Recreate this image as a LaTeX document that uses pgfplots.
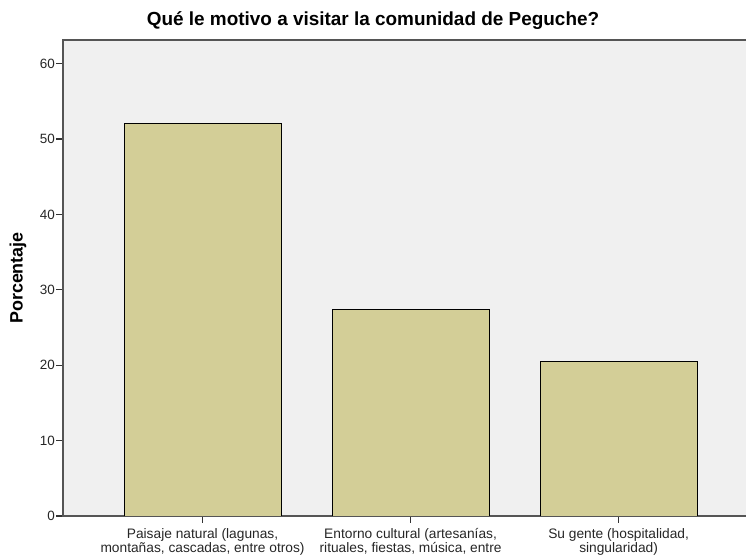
\documentclass[border=0pt]{standalone}
\usepackage{pgfplots}
\pgfplotsset{compat=1.18}
\usepackage{fontspec}
\setmainfont{Liberation Sans}

\definecolor{barfill}{RGB}{211,206,151}
\definecolor{plotbg}{RGB}{240,240,240}
\definecolor{axisgray}{RGB}{85,85,85}

\begin{document}
\begin{tikzpicture}[x=1bp,y=1bp]
\begin{axis}[
    at={(63bp,40bp)}, anchor=south west,
    scale only axis,
    width=690bp, height=476bp,
    xmin=-0.6707, xmax=2.646,
    ymin=0, ymax=63.13,
    ybar, bar width=157bp,
    axis background/.style={fill=plotbg},
    axis line style={draw=axisgray, line width=1.3bp},
    xtick={0,1,2},
    xticklabels={
        {Paisaje natural (lagunas,\\montañas, cascadas, entre otros)},
        {Entorno cultural (artesanías,\\rituales, fiestas, música, entre\\otros)},
        {Su gente (hospitalidad,\\singularidad)}},
    ytick={0,10,20,30,40,50,60},
    xtick pos=bottom, ytick pos=left,
    tick align=outside,
    major tick length=7bp,
    tick style={draw=black!80, line width=1.3bp},
    /pgf/number format/assume math mode=true,
    yticklabel style={font=\fontsize{13.5}{13.5}\selectfont, text=black!85, inner sep=1bp},
    xticklabel style={font=\fontsize{13.8}{14}\selectfont, text=black!85, align=center, inner sep=2bp, yshift=-3bp},
]
\addplot[fill=barfill, draw=black, line width=0.9bp]
    coordinates {(0,52.1) (1,27.4) (2,20.5)};
\end{axis}
\node[font=\bfseries\fontsize{19}{19}\selectfont] at (373,535) {Qué le motivo a visitar la comunidad de Peguche?};
\node[font=\bfseries\fontsize{18}{18}\selectfont, rotate=90] at (18,278) {Porcentaje};
\pgfresetboundingbox
\path[use as bounding box] (0,0) rectangle (746,556);
\end{tikzpicture}
\end{document}
